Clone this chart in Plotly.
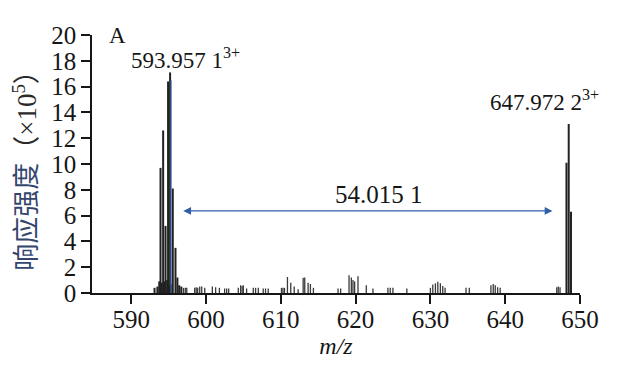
import plotly.graph_objects as go

# ---- data ----
peak_mz = [593.12, 593.50, 593.75, 593.92, 594.10, 594.27, 594.45, 594.59, 594.80, 594.93,
           595.05, 595.20, 595.40, 595.56, 595.92, 596.18, 596.42, 596.70,
           648.19, 648.49, 648.80]
peak_int = [0.4, 0.5, 0.9, 9.7, 0.8, 12.6, 0.9, 5.2, 1.0, 16.4,
            0.6, 17.1, 0.7, 8.1, 3.5, 1.2, 0.6, 0.5,
            10.1, 13.1, 6.3]

minor_mz = [596.99, 597.23, 597.43, 598.49, 598.69, 598.89, 599.16, 599.43, 599.83,
            600.85, 601.29, 601.79, 602.49, 602.76, 603.03, 604.32, 604.63, 604.83,
            604.99, 605.43, 606.32, 606.63, 606.99, 607.65, 607.96, 608.32,
            610.09, 610.29, 610.49, 610.89, 611.33, 611.79, 612.32, 612.99, 613.20,
            613.65, 613.96, 614.36, 617.65, 618.00, 619.12, 619.43, 619.65, 619.87,
            620.32, 621.43, 622.32, 624.32, 624.63, 624.99, 626.85,
            630.00, 630.32, 630.67, 630.99, 631.33, 631.65, 631.96, 634.76, 635.20,
            638.09, 638.40, 638.67, 638.99, 639.33, 646.89, 647.09, 647.33]
minor_int = [0.4, 0.4, 0.4, 0.4, 0.45, 0.4, 0.5, 0.5, 0.4,
             0.5, 0.45, 0.4, 0.35, 0.35, 0.35, 0.4, 0.6, 0.55,
             0.6, 0.35, 0.4, 0.4, 0.4, 0.35, 0.35, 0.35,
             0.4, 0.4, 0.4, 1.24, 0.8, 0.5, 0.3, 1.19, 1.2,
             0.8, 0.7, 0.4, 0.35, 0.35, 1.37, 1.2, 1.0, 0.9,
             1.3, 0.6, 0.35, 0.4, 0.4, 0.4, 0.35,
             0.4, 0.65, 0.75, 0.88, 0.75, 0.55, 0.4, 0.4, 0.4,
             0.6, 0.7, 0.6, 0.45, 0.4, 0.45, 0.5, 0.45]

mono_mz = [595.33]
mono_int = [16.5]

label_text = ["593.957 1<sup>3+</sup>", "647.972 2<sup>3+</sup>"]
label_mz = [589.7, 637.65]
label_y = [18.15, 14.95]

panel_text = "A"
panel_mz = 586.8
panel_y = 20.0

delta_text = "54.015 1"
delta_mz = 623.1
delta_y = 7.66
arrow_from = 596.76
arrow_to = 646.32
arrow_y = 6.36

x_range = [584.76, 650]
y_range = [0, 20]


def stems(xs, ys):
    sx, sy = [], []
    for x, y in zip(xs, ys):
        sx += [x, x, None]
        sy += [0, y, None]
    return sx, sy


FONT = "Liberation Serif, Noto Sans CJK SC, serif"
INK = "#161616"

fig = go.Figure()
mx, my = stems(minor_mz, minor_int)
fig.add_trace(go.Scatter(x=mx, y=my, mode="lines", line=dict(color="#3a3a3a", width=1.3),
                         hoverinfo="skip", showlegend=False))
px, py = stems(peak_mz, peak_int)
fig.add_trace(go.Scatter(x=px, y=py, mode="lines", line=dict(color="#222222", width=2.0),
                         hoverinfo="skip", showlegend=False))
bx, by = stems(mono_mz, mono_int)
fig.add_trace(go.Scatter(x=bx, y=by, mode="lines", line=dict(color="#3f6fb6", width=1.2),
                         hoverinfo="skip", showlegend=False))

# double-headed arrow
fig.add_annotation(x=arrow_to, y=arrow_y, ax=arrow_from, ay=arrow_y,
                   xref="x", yref="y", axref="x", ayref="y", text="",
                   showarrow=True, arrowhead=2, startarrowhead=2, arrowside="end+start",
                   arrowsize=1.2, startarrowsize=1.2, arrowwidth=1.3, arrowcolor="#2f5fa8")
fig.add_annotation(x=delta_mz, y=delta_y, xref="x", yref="y",
                   text=delta_text, showarrow=False, font=dict(size=25, color=INK, family=FONT))

for t, x, y in zip(label_text, label_mz, label_y):
    fig.add_annotation(x=x, y=y, xref="x", yref="y", text=t, showarrow=False,
                       xanchor="left", yanchor="middle", font=dict(size=23, color=INK, family=FONT))

fig.add_annotation(x=panel_mz, y=panel_y, xref="x", yref="y", text=panel_text, showarrow=False,
                   xanchor="left", yanchor="middle", font=dict(size=23, color=INK, family=FONT))

fig.update_layout(
    width=610, height=362,
    margin=dict(l=82, r=38, t=27, b=77),
    paper_bgcolor="white", plot_bgcolor="white",
    font=dict(family=FONT, size=24, color=INK),
    xaxis=dict(range=x_range, tick0=590, dtick=10, showgrid=False, zeroline=False,
               showline=True, linecolor=INK, linewidth=1.5,
               ticks="outside", ticklen=9, tickwidth=1.5, tickcolor=INK,
               ticklabelstandoff=-6,
               tickfont=dict(size=25, family=FONT, color=INK),
               title=dict(text="<i>m/z</i>", font=dict(size=24, family=FONT, color=INK), standoff=0)),
    yaxis=dict(range=y_range, dtick=2, showgrid=False, zeroline=False,
               showline=True, linecolor=INK, linewidth=1.5,
               ticks="outside", ticklen=9, tickwidth=1.5, tickcolor=INK,
               tickfont=dict(size=25, family=FONT, color=INK),
               title=dict(text="<span style='color:#34466e'>响应强度</span>（×10<sup>5</sup>）",
                          font=dict(size=27, family=FONT, color="#2a2a2a"), standoff=12)),
)

fig.write_html("out.html")
